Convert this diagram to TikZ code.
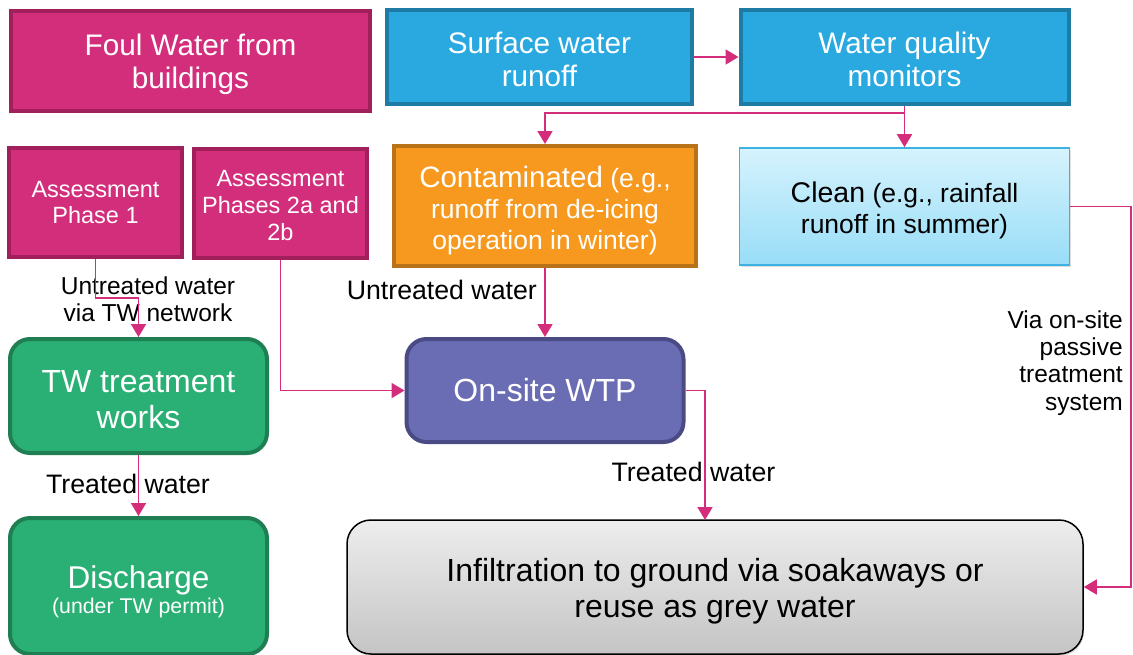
\documentclass[tikz,border=0pt]{standalone}
\usepackage{fontspec}
\setmainfont{Liberation Sans}
\usetikzlibrary{arrows.meta,calc,shadows}
\definecolor{mag}{HTML}{D32E7B}
\definecolor{magB}{HTML}{A11F5B}
\definecolor{blu}{HTML}{29A9E0}
\definecolor{bluB}{HTML}{1D7BA4}
\definecolor{org}{HTML}{F7991E}
\definecolor{orgB}{HTML}{B8731A}
\definecolor{grn}{HTML}{2AB074}
\definecolor{grnB}{HTML}{1F7F52}
\definecolor{pur}{HTML}{6B6DB4}
\definecolor{purB}{HTML}{4A4B85}
\definecolor{cln}{HTML}{3DB2E2}
\definecolor{clnT}{HTML}{D6F3FD}
\definecolor{clnM}{HTML}{98DDF7}
\definecolor{conn}{HTML}{D42D7C}
\newcommand{\fs}[2]{\fontsize{#1}{#2}\selectfont}
\newcommand{\up}[1]{\rule{0pt}{#1}}
\tikzset{
  boxbase/.style={rectangle, inner sep=0pt, align=center, line width=4pt},
  magbox/.style={boxbase, fill=mag, draw=magB, text=white},
  blubox/.style={boxbase, fill=blu, draw=bluB, text=white},
  orgbox/.style={boxbase, fill=org, draw=orgB, text=white},
  grnbox/.style={boxbase, rounded corners=20pt, fill=grn, draw=grnB, text=white},
  purbox/.style={boxbase, rounded corners=20pt, fill=pur, draw=purB, text=white},
  clnbox/.style={boxbase, line width=1.6pt, draw=cln, top color=clnT, bottom color=clnM,
     drop shadow={opacity=0.25, shadow xshift=1pt, shadow yshift=-2pt}},
  infbox/.style={boxbase, line width=1.5pt, rounded corners=24pt, draw=black, top color=black!7, bottom color=black!23,
     drop shadow={opacity=0.25, shadow xshift=1pt, shadow yshift=-2pt}},
  conn/.style={draw=conn, line width=1.8pt, -{Triangle[length=13pt,width=15pt]}},
  lbl/.style={inner sep=0pt, align=center, text=black},
}
\begin{document}
\begin{tikzpicture}[x=1pt,y=-1pt]
\useasboundingbox (0,0) rectangle (1133,654);
% boxes
\node[magbox, minimum width=359pt, minimum height=100pt, font=\fs{29.7}{33}] (foul) at (190.5,61) {\up{29pt}Foul Water from\\buildings};
\node[blubox, minimum width=305pt, minimum height=94pt, font=\fs{29.7}{33}] (surf) at (539.5,57) {\up{27pt}Surface water\\runoff};
\node[blubox, minimum width=328pt, minimum height=94pt, font=\fs{29.7}{33}] (wqm) at (904.5,57) {\up{27pt}Water quality\\monitors};
\node[magbox, minimum width=173pt, minimum height=109pt, font=\fs{23.5}{26}] (ph1) at (95.5,202.5) {Assessment\\Phase 1};
\node[magbox, minimum width=173pt, minimum height=109pt, font=\fs{23.5}{27}] (ph2) at (280.5,203.5) {\up{21pt}Assessment\\Phases 2a and\\2b};
\node[orgbox, minimum width=302pt, minimum height=120pt, font=\fs{26.5}{31}] (cont) at (545,206) {\up{31pt}{\fs{29.5}{31}Contaminated} (e.g.,\\runoff from de-icing\\operation in winter)};
\node[clnbox, minimum width=330pt, minimum height=117pt, font=\fs{26.5}{31}] (clean) at (904.5,206.5) {\up{28.5pt}{\fs{28.5}{31}Clean} (e.g., rainfall\\runoff in summer)};
\node[grnbox, minimum width=257pt, minimum height=114pt, font=\fs{32}{36}] (tw) at (138.5,396) {\up{29pt}TW treatment\\works};
\node[grnbox, minimum width=257pt, minimum height=136pt, font=\fs{21.3}{25}] (dis) at (138.5,586) {\up{34pt}{\fs{31.5}{25}Discharge}\\(under TW permit)};
\node[purbox, minimum width=277pt, minimum height=103pt, font=\fs{32}{36}] (wtp) at (545,390.5) {On-site WTP};
\node[infbox, minimum width=736pt, minimum height=134pt, font=\fs{32}{36}] (inf) at (715,587) {\up{31pt}Infiltration to ground via soakaways or\\reuse as grey water};
% labels
\node[lbl, font=\fs{24.5}{27}] (l1) at (148,299.5) {Untreated water\\via TW network};
\node[lbl, anchor=east, font=\fs{26.7}{30}] (l2) at (537,290) {Untreated water};
\node[lbl, font=\fs{26.7}{30}] (l3) at (128,484) {Treated water};
\node[lbl, font=\fs{26.7}{30}] (l4) at (693.5,472) {Treated water};
\node[lbl, anchor=east, align=right, font=\fs{24.5}{27.3}] (l5) at (1123,363) {Via on-site\\passive\\treatment\\system};
% connectors
\coordinate (j1) at (904.5,113);
\coordinate (k1) at (138.5,298);
\coordinate (k2) at (705,520);
\coordinate (k3) at (1131,206.5);
\draw[conn] (surf.east) -- (wqm.west);
\draw[conn] (wqm.south) -- (clean.north);
\draw[conn] (j1) -| (cont.north);
\draw[conn] (ph1.south) |- (k1) -- (tw.north);
\draw[conn] (ph2.south) |- (wtp.west);
\draw[conn] (cont.south) -- (wtp.north);
\draw[conn] (wtp.east) -| (k2);
\draw[conn] (clean.east) -- (k3) |- (inf.east);
\draw[conn] (tw.south) -- (dis.north);
\end{tikzpicture}
\end{document}
